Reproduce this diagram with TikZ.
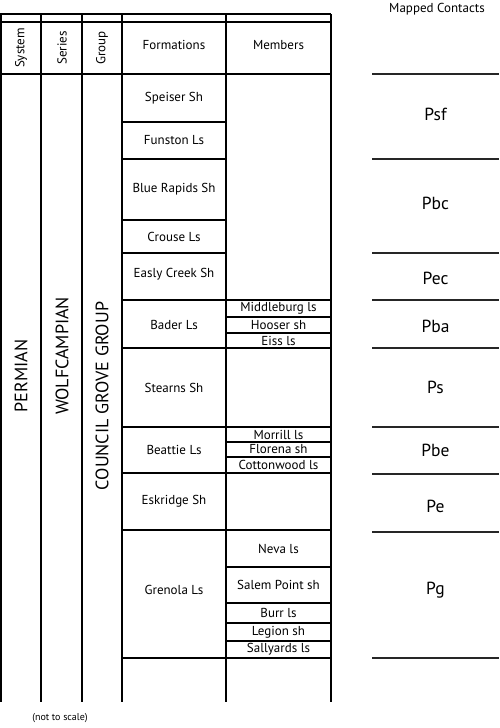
\documentclass[tikz,border=0pt]{standalone}
\usepackage{fontspec}
\setmainfont{PT Sans}
\usetikzlibrary{positioning}

\begin{document}
\begin{tikzpicture}[
    x=1pt, y=-1pt,
    rule/.style={draw, line width=1.3pt},
    contactline/.style={draw, line width=1.2pt, black!85},
    head/.style={font=\fontsize{13}{15}\selectfont, inner sep=0pt},
    vhead/.style={head, rotate=90},
    unit/.style={font=\fontsize{13}{15}\selectfont, inner sep=0pt},
    bigunit/.style={font=\fontsize{18}{21}\selectfont, rotate=90, inner sep=0pt},
    contact/.style={font=\fontsize{17.5}{20}\selectfont, inner sep=0pt},
]
\useasboundingbox (0,0) rectangle (500,728);

% column frame
\draw[rule] (0,14) -- (331,14);
\draw[rule] (0,22) -- (331,22);
\draw[rule] (0,74) -- (331,74);
\foreach \x in {1,41,82,122,226,331}
    \draw[rule] (\x,14) -- (\x,702);

% formation and member boundaries
\foreach \y in {122,159,220,253}
    \draw[rule] (122,\y) -- (226,\y);
\foreach \y in {300,348,427,473,530,658}
    \draw[rule] (122,\y) -- (331,\y);
\foreach \y in {317,333,442,457,567,603,623,641}
    \draw[rule] (226,\y) -- (331,\y);

% headings
\node[vhead] (system) at (21,48) {System};
\node[vhead] (series) at (62,48) {Series};
\node[vhead] (group) at (102,48) {Group};
\node[head] (formations) at (174,45) {Formations};
\node[head] (members) at (278.5,45) {Members};
\node[head] (mapped) at (437,9) {Mapped Contacts};

% system, series, group
\node[bigunit] (permian) at (21,376) {PERMIAN};
\node[bigunit] (wolfcampian) at (62,356) {WOLFCAMPIAN};
\node[bigunit] (councilgrove) at (102,396) {COUNCIL GROVE GROUP};

% formations
\node[unit] (speiser) at (174,98) {Speiser Sh};
\node[unit] (funston) at (174,140.5) {Funston Ls};
\node[unit] (bluerapids) at (174,189.5) {Blue Rapids Sh};
\node[unit] (crouse) at (174,236.5) {Crouse Ls};
\node[unit] (easlycreek) at (174,274) {Easly Creek Sh};
\node[unit] (bader) at (174,324.5) {Bader Ls};
\node[unit] (stearns) at (174,387.5) {Stearns Sh};
\node[unit] (beattie) at (174,450) {Beattie Ls};
\node[unit] (eskridge) at (174,501.5) {Eskridge Sh};
\node[unit] (grenola) at (174,590) {Grenola Ls};

% members
\node[unit] (middleburg) at (278.5,308.5) {Middleburg ls};
\node[unit] (hooser) at (278.5,325) {Hooser sh};
\node[unit] (eiss) at (278.5,340.5) {Eiss ls};
\node[unit] (morrill) at (278.5,434.5) {Morrill ls};
\node[unit] (florena) at (278.5,449.5) {Florena sh};
\node[unit] (cottonwood) at (278.5,465) {Cottonwood ls};
\node[unit] (neva) at (278.5,549) {Neva ls};
\node[unit] (salempoint) at (278.5,585) {Salem Point sh};
\node[unit] (burr) at (278.5,613) {Burr ls};
\node[unit] (legion) at (278.5,632) {Legion sh};
\node[unit] (sallyards) at (278.5,649.5) {Sallyards ls};

% mapped contacts
\foreach \y in {74,159,253,300,348,427,474,532,658}
    \draw[contactline] (372,\y) -- (499,\y);
\node[contact] (psf) at (435.5,114) {Psf};
\node[contact] (pbc) at (435.5,203) {Pbc};
\node[contact] (pec) at (435.5,278) {Pec};
\node[contact] (pba) at (435.5,326) {Pba};
\node[contact] (ps) at (435.5,387) {Ps};
\node[contact] (pbe) at (435.5,450) {Pbe};
\node[contact] (pe) at (435.5,506) {Pe};
\node[contact] (pg) at (435.5,590) {Pg};

\node[font=\fontsize{10}{12}\selectfont, inner sep=0pt] (scale) at (60,718) {(not to scale)};
\end{tikzpicture}
\end{document}
